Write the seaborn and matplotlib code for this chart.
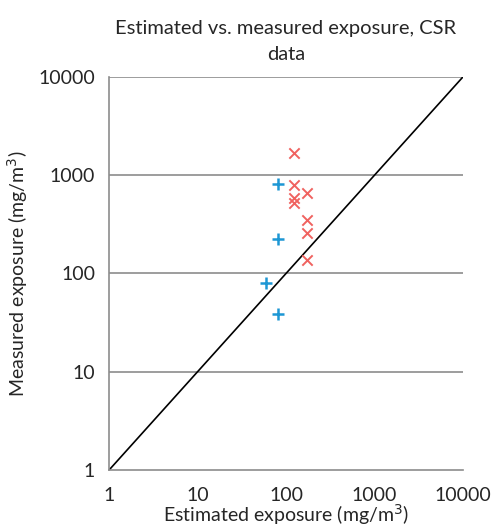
"""Estimated vs. measured exposure, CSR data (log-log scatter)."""

import matplotlib

matplotlib.use("Agg")
import matplotlib.pyplot as plt
import numpy as np
import pandas as pd
import seaborn as sns

# data (mg/m3)
red_est = [123, 123, 123, 123, 173, 173, 173, 173]
red_meas = [1690, 800, 590, 525, 660, 350, 258, 137]
blue_est = [82, 82, 59, 82]
blue_meas = [815, 224, 80, 39]
line_vals = [1, 10000]
ticks = [1, 10, 100, 1000, 10000]
tick_labels = ["1", "10", "100", "1000", "10000"]

df = pd.DataFrame({
    "est": red_est + blue_est,
    "meas": red_meas + blue_meas,
    "group": ["red"] * len(red_est) + ["blue"] * len(blue_est),
})

sns.set_style("white")
plt.rcParams["font.family"] = ["Lato", "DejaVu Sans"]

fig = plt.figure(figsize=(4.91, 5.30), dpi=100)
ax = fig.add_axes([0.222, 0.113, 0.721, 0.742])

ax.set_xscale("log")
ax.set_yscale("log")
ax.set_xlim(1, 10000)
ax.set_ylim(1, 10000)

for t in ticks[1:]:
    ax.axhline(t, color="#8c8c8c", linewidth=1.2, zorder=0)

sns.lineplot(x=line_vals, y=line_vals, color="black", linewidth=1.2, ax=ax)

red = df[df["group"] == "red"]
blue = df[df["group"] == "blue"]
sns.scatterplot(data=red, x="est", y="meas", marker="x", s=55, color="#F0625F",
                linewidth=1.4, ax=ax, zorder=3)
sns.scatterplot(data=blue, x="est", y="meas", marker="+", s=70, color="#1D97D4",
                linewidth=1.8, ax=ax, zorder=3)

ax.set_xticks(ticks)
ax.set_xticklabels(tick_labels)
ax.set_yticks(ticks)
ax.set_yticklabels(tick_labels)
ax.minorticks_off()
ax.tick_params(axis="both", which="major", direction="out", length=6, width=1.2,
               color="#8c8c8c", labelsize=14, pad=4)
ax.tick_params(axis="x", pad=6)

for side in ["top", "right"]:
    ax.spines[side].set_visible(False)
for side in ["left", "bottom"]:
    ax.spines[side].set_color("#8c8c8c")
    ax.spines[side].set_linewidth(1.2)

ax.set_xlabel("Estimated exposure (mg/m$^3$)", fontsize=14, labelpad=-1)
ax.set_ylabel("Measured exposure (mg/m$^3$)", fontsize=14, labelpad=6)
ax.set_title("Estimated vs. measured exposure, CSR\ndata", fontsize=14.5,
             pad=12, linespacing=1.65)

plt.savefig("out.png", dpi=100)
plt.close()
